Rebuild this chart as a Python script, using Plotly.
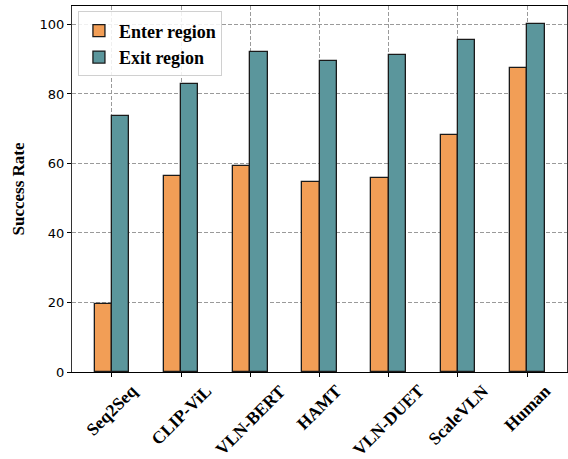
import plotly.graph_objects as go

methods = ["Seq2Seq", "CLIP-ViL", "VLN-BERT", "HAMT", "VLN-DUET", "ScaleVLN", "Human"]
enter_region = [19.6, 56.4, 59.3, 54.7, 55.8, 68.2, 87.5]
exit_region = [73.7, 82.9, 92.1, 89.5, 91.2, 95.5, 100.0]
y_ticks = [0, 20, 40, 60, 80, 100]

bar_w = 0.25
xs = list(range(len(methods)))

fig = go.Figure()
fig.add_trace(go.Bar(
    x=[i - bar_w / 2 for i in xs], y=enter_region, width=bar_w,
    name="<b>Enter region</b>", marker=dict(color="#F29E56", line=dict(color="#1a1a1a", width=1.3)),
))
fig.add_trace(go.Bar(
    x=[i + bar_w / 2 for i in xs], y=exit_region, width=bar_w,
    name="<b>Exit region</b>", marker=dict(color="#5B969C", line=dict(color="#1a1a1a", width=1.3)),
))

# rotated category labels centred under each tick
for i, m in zip(xs, methods):
    fig.add_annotation(
        x=i, y=0, xref="x", yref="paper", yshift=-6,
        text=f"<b>{m}</b>", textangle=-45, showarrow=False,
        xanchor="center", yanchor="top",
        font=dict(family="Liberation Serif", size=17.5, color="black"),
    )

fig.update_layout(
    width=568, height=459,
    margin=dict(l=72, r=1, t=6, b=87),
    plot_bgcolor="white", paper_bgcolor="white",
    barmode="overlay", bargap=0,
    showlegend=True,
    legend=dict(
        x=0.012, y=0.985, xanchor="left", yanchor="top",
        bgcolor="rgba(255,255,255,0.85)", bordercolor="#d0d0d0", borderwidth=1,
        font=dict(family="Liberation Serif", size=18, color="black"),
        itemwidth=30, tracegroupgap=0,
    ),
    xaxis=dict(
        range=[-0.575, 6.575], tickmode="array", tickvals=xs, showticklabels=False,
        ticks="outside", ticklen=4, tickcolor="black", automargin=False,
        showgrid=True, gridcolor="#9a9a9a", griddash="4px,2px", gridwidth=1,
        showline=True, linecolor="black", linewidth=1.3, mirror=True, zeroline=False,
    ),
    yaxis=dict(
        range=[0, 105.3], tickmode="array", tickvals=y_ticks,
        ticks="outside", ticklen=4, tickcolor="black", automargin=False,
        tickfont=dict(family="DejaVu Sans", size=13, color="black"),
        showgrid=True, gridcolor="#9a9a9a", griddash="4px,2px", gridwidth=1,
        showline=True, linecolor="#333333", linewidth=1.3, mirror=True, zeroline=False,
        title=dict(text="<b>Success Rate</b>", standoff=10,
                   font=dict(family="Liberation Serif", size=17, color="black")),
    ),
)

fig.write_html("out.html")
